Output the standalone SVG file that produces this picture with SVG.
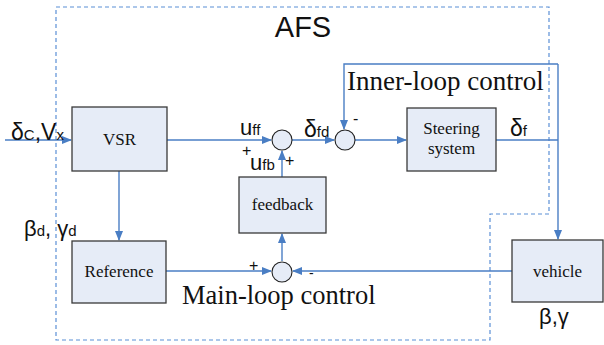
<svg xmlns="http://www.w3.org/2000/svg" width="604" height="345" viewBox="0 0 604 345">
  <style>
    .blk { fill: #e6ecf7; stroke: #3a3a3a; stroke-width: 1.3; }
    .sum { fill: #e6ecf7; stroke: #222; stroke-width: 1.1; }
    .wire { fill: none; stroke: #4a7ec4; stroke-width: 1.4; }
    .bound { fill: none; stroke: #5b8fd6; stroke-width: 1.2; stroke-dasharray: 4 3; }
    text { fill: #111; }
  </style>
  <defs>
    <marker id="arr" markerWidth="10" markerHeight="8" refX="9" refY="4" orient="auto" markerUnits="userSpaceOnUse">
      <path d="M0,0 L10,4 L0,8 Z" fill="#4a7ec4"/>
    </marker>
  </defs>
  <rect width="604" height="345" fill="#ffffff"/>

  <!-- AFS boundary -->
  <path class="bound" d="M56,7 H549 V214 H490 V340 H56 Z"/>
  <text font-family="'Liberation Sans', Arial, sans-serif" x="303" y="37" font-size="29" text-anchor="middle">AFS</text>

  <!-- connectors -->
  <g id="connectors">
    <line class="wire" x1="5" y1="140" x2="71" y2="140" marker-end="url(#arr)"/>
    <line class="wire" x1="167" y1="140" x2="271" y2="140" marker-end="url(#arr)"/>
    <line class="wire" x1="292" y1="140" x2="334" y2="140" marker-end="url(#arr)"/>
    <line class="wire" x1="355" y1="140" x2="406" y2="140" marker-end="url(#arr)"/>
    <line class="wire" x1="496" y1="140" x2="558" y2="140"/>
    <polyline class="wire" points="558,64 344,64 344,129" marker-end="url(#arr)"/>
    <line class="wire" x1="558" y1="64" x2="558" y2="239" marker-end="url(#arr)"/>
    <line class="wire" x1="282" y1="177" x2="282" y2="151" marker-end="url(#arr)"/>
    <line class="wire" x1="119" y1="171" x2="119" y2="240" marker-end="url(#arr)"/>
    <line class="wire" x1="166" y1="271" x2="271" y2="271" marker-end="url(#arr)"/>
    <line class="wire" x1="512" y1="271" x2="293" y2="271" marker-end="url(#arr)"/>
    <line class="wire" x1="282" y1="261" x2="282" y2="234" marker-end="url(#arr)"/>
  </g>

  <g id="vsr">
    <rect class="blk" x="72" y="107" width="95" height="64"/>
    <text font-family="'Liberation Serif', 'Times New Roman', serif" x="119.5" y="145" font-size="17" text-anchor="middle">VSR</text>
  </g>

  <g id="sum-ff">
    <circle class="sum" cx="282" cy="140" r="10"/>
  </g>

  <g id="sum-inner">
    <circle class="sum" cx="345" cy="140" r="10"/>
  </g>

  <g id="steering">
    <rect class="blk" x="407" y="108" width="89" height="63"/>
    <text font-family="'Liberation Serif', 'Times New Roman', serif" x="451.5" y="134" font-size="17" text-anchor="middle">Steering</text>
    <text font-family="'Liberation Serif', 'Times New Roman', serif" x="451.5" y="154" font-size="17" text-anchor="middle">system</text>
  </g>

  <g id="feedback">
    <rect class="blk" x="239" y="177" width="87" height="56"/>
    <text font-family="'Liberation Serif', 'Times New Roman', serif" x="282.5" y="210" font-size="17" text-anchor="middle">feedback</text>
  </g>

  <g id="reference">
    <rect class="blk" x="72" y="241" width="94" height="62"/>
    <text font-family="'Liberation Serif', 'Times New Roman', serif" x="119" y="277" font-size="17" text-anchor="middle">Reference</text>
  </g>

  <g id="sum-main">
    <circle class="sum" cx="282" cy="272" r="10"/>
  </g>

  <g id="vehicle">
    <rect class="blk" x="512" y="240" width="91" height="62"/>
    <text font-family="'Liberation Serif', 'Times New Roman', serif" x="557.5" y="277" font-size="17" text-anchor="middle">vehicle</text>
  </g>

  <!-- signal labels -->
  <g id="labels" font-family="'Liberation Sans', Arial, sans-serif">
    <text x="11" y="140" font-size="23">δ<tspan font-size="15">C</tspan>,V<tspan font-size="15">x</tspan></text>
    <text x="240" y="135" font-size="22">u<tspan font-size="15">ff</tspan></text>
    <text x="242" y="156" font-size="16">+</text>
    <text x="250" y="170" font-size="22">u<tspan font-size="15">fb</tspan></text>
    <text x="285" y="166" font-size="16">+</text>
    <text x="304" y="137" font-size="23">δ<tspan font-size="15">fd</tspan></text>
    <text x="353" y="124" font-size="16">-</text>
    <text x="510" y="136" font-size="23">δ<tspan font-size="15">f</tspan></text>
    <text x="24" y="236" font-size="22">β<tspan font-size="15">d</tspan>, γ<tspan font-size="15">d</tspan></text>
    <text x="249" y="271" font-size="16">+</text>
    <text x="309" y="278" font-size="14">-</text>
  </g>
  <g id="loop-titles" font-family="'Liberation Serif', 'Times New Roman', serif">
    <text x="347" y="90" font-size="27">Inner-loop control</text>
    <text x="182" y="304" font-size="26.5">Main-loop control</text>
  </g>
  <text font-family="'Liberation Sans', Arial, sans-serif" x="539" y="324" font-size="22">β,γ</text>
</svg>
